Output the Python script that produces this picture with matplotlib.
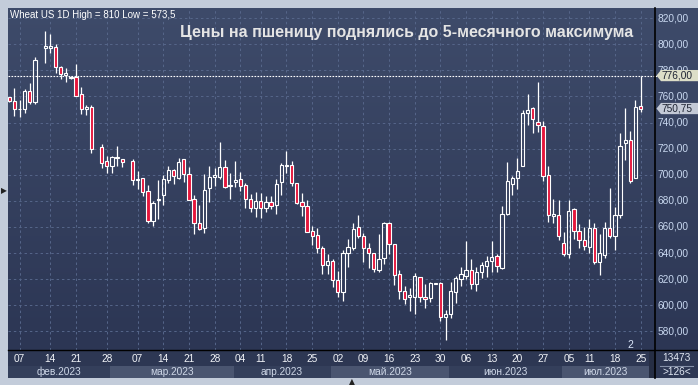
import numpy as np
import matplotlib
matplotlib.use("Agg")
from matplotlib import pyplot as plt
from matplotlib.patches import Polygon, Rectangle
from matplotlib.lines import Line2D

plt.rcParams['font.family'] = ['Liberation Sans', 'DejaVu Sans']

nan = np.nan

# daily OHLC, one entry per chart slot (nan = empty slot)
opens = [759.4, 756.6, 750.2, 750.3, 764.3, 755.4, nan, 797.4, 796.9, 797.7,
         782.7, 776.3, 774.5, 774.7, 762.0, 750.3, 751.8, nan, 721.2, 710.7,
         706.4, 712.8, 712.0, nan, 710.7, 696.0, 697.5, 687.5, 664.8, 680.8,
         684.6, 696.3, 703.6, 697.8, 711.8, 700.3, 681.5, 663.0, 659.1, 689.7,
         698.3, 698.6, 705.7, 691.4, 694.2, 696.8, 692.2, 681.3, 674.9, 679.7,
         674.4, 679.0, 677.2, 694.7, 707.0, 707.5, 693.5, 679.0, 675.9, 656.9,
         653.6, 643.9, 630.7, 633.8, 619.3, 609.8, 640.2, 644.0, 659.6, 652.7,
         643.5, 639.7, 627.2, 635.9, 663.2, 647.3, 623.6, 610.6, 606.0, 606.0,
         621.3, 606.3, 605.5, 616.5, 617.0, 590.7, 593.5, 610.4, 619.8, 622.6,
         626.9, 616.0, 625.2, 629.7, 634.1, 637.4, 628.5, 670.1, 693.1, 697.7,
         706.4, 747.0, 751.1, 740.1, 737.0, 699.5, 668.6, 668.8, 647.6, 639.4,
         673.4, 656.6, 649.7, 644.8, 658.9, 632.8, 638.7, 658.9, 652.7, 669.3,
         724.2, 727.0, 697.2, 752.8]
highs = [759.8, 766.3, 757.4, 765.8, 770.7, 790.6, nan, 810.0, 807.9, 800.0,
         783.0, 781.6, 775.8, 785.0, 767.6, 753.6, 753.6, nan, 723.7, 714.6,
         714.6, 722.2, 712.3, nan, 712.0, 703.1, 697.5, 691.9, 679.6, 695.7,
         700.1, 706.4, 704.1, 712.6, 711.8, 705.6, 684.6, 676.6, 700.6, 706.4,
         704.9, 724.9, 711.3, 701.6, 710.3, 702.4, 693.8, 685.1, 687.1, 686.1,
         683.6, 683.6, 696.8, 708.8, 718.2, 710.3, 693.5, 685.9, 680.7, 661.0,
         659.1, 645.5, 639.4, 635.5, 626.2, 642.3, 650.6, 663.2, 669.1, 655.7,
         647.6, 640.4, 654.6, 663.9, 663.9, 647.3, 626.8, 615.1, 613.2, 624.4,
         621.3, 616.3, 617.6, 617.3, 617.6, 596.3, 618.1, 622.2, 629.1, 648.9,
         635.5, 629.1, 633.4, 637.8, 649.4, 639.2, 676.2, 709.7, 699.3, 713.2,
         749.6, 761.8, 752.1, 771.1, 741.4, 706.9, 681.4, 680.9, 656.3, 680.6,
         674.4, 662.2, 659.9, 665.8, 662.7, 654.5, 663.5, 690.0, 675.0, 731.9,
         750.8, 733.6, 757.4, 776.0]
lows = [756.0, 744.7, 743.9, 747.7, 754.3, 754.6, nan, 786.0, 793.6, 777.8,
        773.2, 771.4, 773.5, 760.5, 746.2, 746.0, 716.6, nan, 705.1, 701.3,
        701.3, 706.4, 705.6, nan, 692.4, 689.1, 683.4, 663.0, 661.0, 666.1,
        677.1, 693.8, 692.6, 696.8, 694.6, 681.0, 654.4, 657.4, 655.5, 679.4,
        691.4, 696.8, 689.9, 681.5, 690.4, 687.9, 674.7, 671.1, 667.9, 666.6,
        671.1, 673.9, 670.1, 684.6, 701.6, 691.7, 677.7, 668.5, 656.1, 646.3,
        640.4, 624.1, 623.6, 613.7, 606.7, 603.6, 629.6, 642.6, 651.9, 632.9,
        628.8, 625.1, 625.6, 631.6, 639.2, 615.3, 604.8, 601.0, 595.6, 593.1,
        602.3, 598.0, 602.3, 616.0, 588.3, 573.5, 590.2, 601.8, 615.1, 620.0,
        612.5, 610.9, 620.8, 621.3, 625.6, 625.1, 627.7, 669.3, 684.7, 689.3,
        706.4, 738.4, 732.3, 732.8, 695.3, 664.0, 663.4, 650.1, 637.9, 636.1,
        650.7, 643.6, 642.3, 639.7, 631.5, 622.8, 636.1, 651.5, 642.3, 666.5,
        711.4, 693.6, 697.2, 747.9]
closes = [756.6, 750.3, 750.5, 764.3, 755.4, 788.0, nan, 798.7, 798.5, 782.7,
          777.0, 777.8, 775.3, 760.7, 750.3, 751.8, 719.7, nan, 709.0, 706.4,
          713.3, 713.8, 709.5, nan, 695.9, 696.7, 687.0, 664.8, 678.1, 681.3,
          696.8, 703.9, 698.8, 709.5, 700.3, 681.0, 663.0, 658.4, 688.4, 698.0,
          699.6, 705.7, 690.9, 691.9, 696.0, 691.7, 681.3, 674.9, 680.0, 674.4,
          679.0, 676.4, 693.0, 707.5, 707.5, 693.5, 678.2, 675.9, 656.1, 653.0,
          643.9, 631.2, 634.0, 619.3, 609.8, 640.0, 644.3, 658.8, 653.2, 643.5,
          639.7, 627.7, 635.4, 663.2, 647.3, 623.4, 610.6, 604.8, 607.6, 622.1,
          606.0, 604.8, 616.8, 617.0, 590.7, 593.0, 610.9, 620.8, 623.6, 626.9,
          616.0, 625.2, 630.8, 633.8, 636.6, 629.7, 669.6, 694.9, 697.2, 702.5,
          747.0, 750.0, 743.1, 738.0, 699.2, 668.8, 669.6, 652.7, 639.4, 672.6,
          656.6, 649.7, 645.1, 659.1, 632.8, 639.7, 658.9, 652.7, 669.1, 721.9,
          727.0, 695.1, 752.3, 750.75]

tick_slots = [2, 8, 13, 19, 25, 30, 35, 40, 45, 49, 54, 59, 64, 69, 74, 79,
              84, 89, 94, 99, 104, 109, 113, 118, 123]
tick_labels = ["07", "14", "21", "28", "07", "14", "21", "28", "04", "11",
               "18", "25", "02", "09", "16", "23", "30", "06", "13", "20",
               "27", "05", "11", "18", "25"]
month_edges = [-0.2, 19.6, 43.7, 62.6, 85.7, 107.7, 124.6]
month_labels = ["фев.2023", "мар.2023", "апр.2023", "май.2023", "июн.2023", "июл.2023"]
price_levels = [580, 600, 620, 640, 660, 680, 700, 720, 740, 760, 780, 800, 820]
day_high = 776.0
last_close = 750.75

W, H = 698, 385
BG_TOP, BG_BOT = "#3e4b6a", "#2c3654"
RED = "#e5163c"


def box(l, t, r, b):
    return [l / W, 1 - b / H, (r - l) / W, (b - t) / H]


def gradient(a):
    grad = np.linspace(0, 1, 256).reshape(-1, 1)
    c0 = np.array(matplotlib.colors.to_rgb(BG_TOP))
    c1 = np.array(matplotlib.colors.to_rgb(BG_BOT))
    img = c0 + (c1 - c0) * grad[:, :, None]
    a.imshow(img, extent=[0, 1, 0, 1], transform=a.transAxes, aspect="auto", zorder=0)


fig = plt.figure(figsize=(W / 100, H / 100), dpi=100, facecolor="#c3ccda")

ylo, yhi = 565.7, 827.8
xlo, xhi = -0.2, 125.8

# main price panel
ax = fig.add_axes(box(8.3, 8, 655, 350))
gradient(ax)
ax.set_xlim(xlo, xhi)
ax.set_ylim(ylo, yhi)
ax.set_axis_off()
for v in price_levels:
    ax.axhline(v, color="#56668a", lw=0.7, ls=(0, (2.5, 3)), zorder=1)
for s in tick_slots:
    ax.axvline(s, color="#56668a", lw=0.7, ls=(0, (2.5, 3)), zorder=1)

o = np.array(opens); h = np.array(highs); l = np.array(lows); c = np.array(closes)
x = np.arange(len(o))
ok = ~np.isnan(o)
top = np.maximum(o, c)
bot = np.minimum(o, c)
ax.vlines(x[ok], top[ok], h[ok], color="white", lw=0.9, zorder=3)
ax.vlines(x[ok], l[ok], bot[ok], color="white", lw=0.9, zorder=3)
hgt = np.maximum(top - bot, 0.4)
cols = [RED if cc < oo else "none" for oo, cc in zip(o, c)]
ax.bar(x[ok], hgt[ok], bottom=bot[ok], width=0.64,
       color=[cols[i] for i in x[ok]], edgecolor="white", linewidth=0.8, zorder=4)

ax.axhline(day_high, color="white", lw=0.8, ls=(0, (1.5, 1.2)), zorder=2)

fig.text(180 / W, 1 - 32 / H, "Цены на пшеницу поднялись до 5-месячного максимума",
         fontsize=11.5, fontweight="bold", color="#e4e4e4", ha="left", va="center")
fig.text(10 / W, 1 - 15 / H, "Wheat US 1D High = 810 Low = 573,5",
         fontsize=7, color="white", ha="left", va="center")
fig.text(630 / W, 1 - 345 / H, "2", fontsize=7.5, color="#dbe6fa", ha="center", va="center")

# right price scale
axr = fig.add_axes(box(655, 8, 698, 350))
gradient(axr)
axr.set_xlim(0, 43)
axr.set_ylim(ylo, yhi)
axr.set_axis_off()
for v in price_levels:
    axr.text(3, v, f"{v:.2f}".replace(".", ","), fontsize=7.3, color="#c9d8f0",
             ha="left", va="center", zorder=2)
axr.plot([0, 2], [day_high, day_high], color="white", lw=0.8, ls=(0, (1.5, 1.2)))

th = 4.3
for val, fc in [(day_high, "#dcdec8"), (last_close, "#c3c9d6")]:
    axr.add_patch(Polygon([[1.5, val], [6, val + th], [43, val + th], [43, val - th],
                           [6, val - th]], closed=True, facecolor=fc,
                          edgecolor="none", zorder=5))
    axr.text(7, val, f"{val:.2f}".replace(".", ","), fontsize=7.3, color="#1e2433",
             ha="left", va="center", zorder=6)

# date scale
axb = fig.add_axes(box(8.3, 350, 655, 378))
axb.set_xlim(xlo, xhi)
axb.set_ylim(0, 28)
axb.set_axis_off()
axb.add_patch(Rectangle((xlo, 0), xhi - xlo, 28, facecolor="#2d3753", edgecolor="none", zorder=0))
for i, name in enumerate(month_labels):
    a, b = month_edges[i], month_edges[i + 1]
    fc = "#343f5b" if i % 2 == 0 else "#4a5570"
    axb.add_patch(Rectangle((a, 0), b - a, 12, facecolor=fc, edgecolor="none", zorder=1))
    axb.text((a + b) / 2, 6, name, fontsize=7.3, color="#cfd8e8", ha="center", va="center", zorder=2)
for s, lab in zip(tick_slots, tick_labels):
    axb.text(s, 19.5, lab, fontsize=7.3, color="#f2f4f8", ha="center", va="center", zorder=2)
axb.add_patch(Rectangle((124.6, 0), 1.2, 28, facecolor="#262e44", edgecolor="none", zorder=1))

# corner box
axc = fig.add_axes(box(655, 350, 698, 378))
axc.set_xlim(0, 43)
axc.set_ylim(0, 28)
axc.set_axis_off()
axc.add_patch(Rectangle((0, 0), 43, 28, facecolor="#2d3753", edgecolor="none"))
axc.text(21.5, 20, "13473", fontsize=7.3, color="#dfe6f2", ha="center", va="center")
axc.text(21.5, 6, ">126<", fontsize=7.3, color="#dfe6f2", ha="center", va="center")
axc.plot([5, 38], [12.5, 12.5], color="#8590a8", lw=0.8)

# frame lines
fig.add_artist(Line2D([655 / W, 655 / W], [1 - 8 / H, 1 - 378 / H], color="black", lw=1.2))
fig.add_artist(Line2D([8.3 / W, 1], [1 - 350 / H, 1 - 350 / H], color="black", lw=1.0))
fig.text(3.5 / W, 1 - 191 / H, "\u25b6", fontsize=5.5, color="#222222",
         ha="center", va="center", family="DejaVu Sans")
fig.text(352 / W, 1 - 382 / H, "\u25b2", fontsize=5.5, color="#222222",
         ha="center", va="center", family="DejaVu Sans")

fig.savefig("out.png", dpi=100, facecolor=fig.get_facecolor())
